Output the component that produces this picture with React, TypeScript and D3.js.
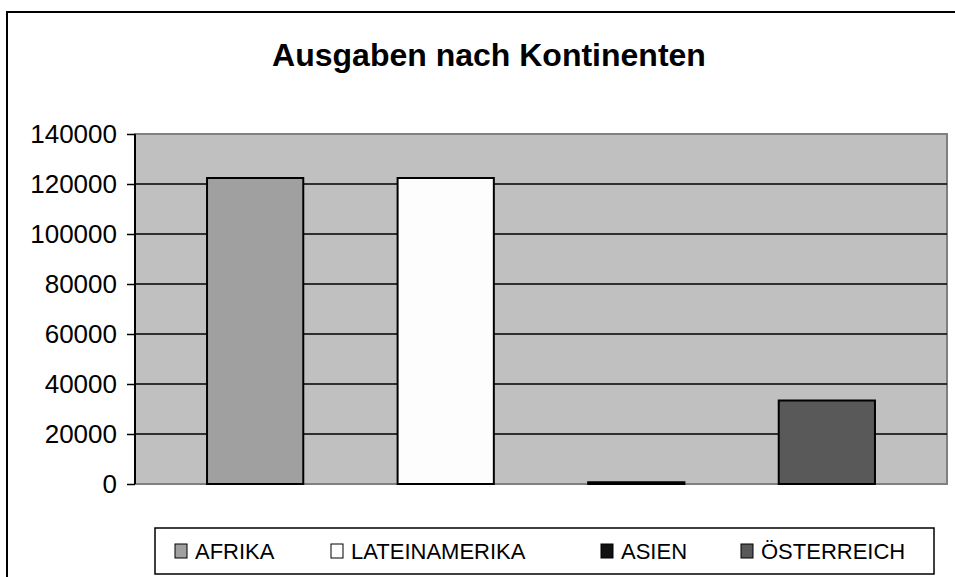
import React, { useRef, useEffect } from 'react';
import * as d3 from 'd3';

const title = 'Ausgaben nach Kontinenten';
const series = ['AFRIKA', 'LATEINAMERIKA', 'ASIEN', 'ÖSTERREICH'];
const values = [122400, 122400, 700, 33400];
const colors = ['#a0a0a0', '#fdfdfd', '#111111', '#595959'];
const yTicks = [0, 20000, 40000, 60000, 80000, 100000, 120000, 140000];
const legendX = [175, 331, 601, 741];

const App = () => {
    const svgRef = useRef<SVGSVGElement>(null);

    useEffect(() => {
        const width = 955;
        const height = 577;
        const plotLeft = 135;
        const plotRight = 947;
        const plotTop = 134;
        const plotBottom = 484;
        const font = '"Liberation Sans", Arial, sans-serif';

        const svg = d3.select(svgRef.current)
            .attr('width', width)
            .attr('height', height)
            .style('position', 'absolute')
            .style('left', 0)
            .style('top', 0)
            .style('font-family', font);

        svg.selectAll('*').remove();

        svg.append('rect')
            .attr('width', width)
            .attr('height', height)
            .attr('fill', '#ffffff');

        // outer chart frame, runs past the right and bottom edges
        svg.append('rect')
            .attr('x', 7)
            .attr('y', 12)
            .attr('width', 1200)
            .attr('height', 1200)
            .attr('fill', 'none')
            .attr('stroke', '#000')
            .attr('stroke-width', 2);

        svg.append('text')
            .attr('x', 489)
            .attr('y', 66)
            .attr('text-anchor', 'middle')
            .attr('font-size', 32)
            .attr('font-weight', 'bold')
            .text(title);

        const x = d3.scaleBand()
            .domain(series)
            .range([plotLeft, plotRight])
            .paddingInner(0.495)
            .paddingOuter(0.378);

        const y = d3.scaleLinear()
            .domain([0, 140000])
            .range([plotBottom, plotTop]);

        // plot area
        svg.append('rect')
            .attr('x', plotLeft)
            .attr('y', plotTop)
            .attr('width', plotRight - plotLeft)
            .attr('height', plotBottom - plotTop)
            .attr('fill', '#c0c0c0')
            .attr('stroke', '#808080')
            .attr('stroke-width', 2);

        // gridlines
        svg.append('g')
            .selectAll('line')
            .data(yTicks.filter(d => d > 0 && d < 140000))
            .join('line')
            .attr('x1', plotLeft)
            .attr('x2', plotRight)
            .attr('y1', d => y(d))
            .attr('y2', d => y(d))
            .attr('stroke', '#000')
            .attr('stroke-width', 1.5);

        // y axis
        svg.append('g')
            .attr('transform', `translate(${plotLeft},0)`)
            .call(d3.axisLeft(y).tickValues(yTicks).tickSize(8).tickPadding(10).tickFormat(d3.format('d')))
            .call(g => g.select('.domain').attr('stroke-width', 2).attr('d', `M0,${plotTop}V${plotBottom}`))
            .call(g => g.selectAll('.tick line').attr('stroke-width', 1.5))
            .call(g => g.selectAll('.tick text')
                .attr('font-size', 26)
                .attr('font-family', font)
                .attr('fill', '#000'));

        // bars
        svg.append('g')
            .selectAll('rect')
            .data(series)
            .join('rect')
            .attr('x', d => x(d))
            .attr('width', x.bandwidth())
            .attr('y', (d, i) => y(values[i]))
            .attr('height', (d, i) => y(0) - y(values[i]))
            .attr('fill', (d, i) => colors[i])
            .attr('stroke', '#000')
            .attr('stroke-width', 2);

        // legend
        svg.append('rect')
            .attr('x', 155)
            .attr('y', 528)
            .attr('width', 779)
            .attr('height', 46)
            .attr('fill', '#fff')
            .attr('stroke', '#000')
            .attr('stroke-width', 1.5);

        const legend = svg.append('g')
            .selectAll('g')
            .data(series)
            .join('g')
            .attr('transform', (d, i) => `translate(${legendX[i]},551)`);

        legend.append('rect')
            .attr('x', 0)
            .attr('y', -7)
            .attr('width', 12)
            .attr('height', 14)
            .attr('fill', (d, i) => colors[i])
            .attr('stroke', '#000')
            .attr('stroke-width', 1);

        legend.append('text')
            .attr('x', 20)
            .attr('y', 8)
            .attr('font-size', 22)
            .text(d => d);

    }, []);

    return (
        <svg ref={svgRef}></svg>
    );
};

export default App;
